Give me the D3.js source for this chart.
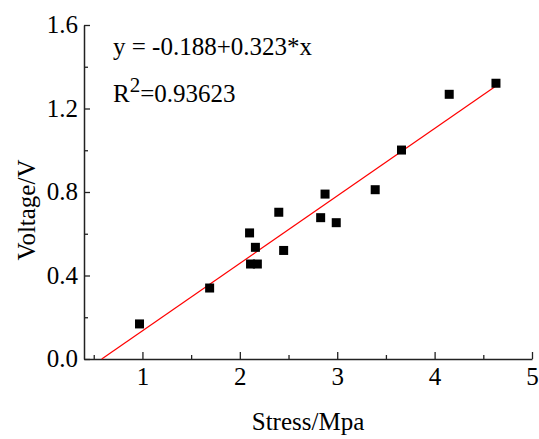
<!DOCTYPE html>
<html>
<head>
<meta charset="utf-8">
<script src="https://cdn.jsdelivr.net/npm/d3@7"></script>
<style>
  body { margin: 0; background: #fff; }
</style>
</head>
<body>
<svg id="viz"></svg>
<script>
// ----------------------- DATA
const stress  = [0.97, 1.69, 2.10, 2.11, 2.16, 2.18, 2.40, 2.45, 2.83, 2.875, 2.99, 3.39, 3.66, 4.15, 4.63];
const voltage = [0.168, 0.34, 0.604, 0.455, 0.535, 0.455, 0.703, 0.52, 0.677, 0.79, 0.653, 0.811, 1.001, 1.268, 1.321];
const xTicks = [1, 2, 3, 4, 5];
const yTicks = [0.0, 0.4, 0.8, 1.2, 1.6];
const intercept = -0.188, slope = 0.323, r2 = '0.93623';

// ----------------------- SETTINGS
const W = 539, H = 439;
const plot = { left: 84, right: 532, top: 25, bottom: 359 };
const FONT = '"Liberation Serif", "Times New Roman", Times, serif';
const FS = '25px';

const svg = d3.select('#viz').attr('width', W).attr('height', H);

const x = d3.scaleLinear().domain([0.4, 5]).range([plot.left, plot.right]);
const y = d3.scaleLinear().domain([0, 1.6]).range([plot.bottom, plot.top]);

// ----------------------- AXES (ticks point inward)
const xAxis = d3.axisBottom(x).tickValues(xTicks).tickFormat(d3.format('d'))
  .tickSizeInner(-7).tickSizeOuter(0).tickPadding(8);
const yAxis = d3.axisLeft(y).tickValues(yTicks).tickFormat(d3.format('.1f'))
  .tickSizeInner(-6).tickSizeOuter(0).tickPadding(6);

const gx = svg.append('g').attr('transform', `translate(0,${plot.bottom})`).call(xAxis);
const gy = svg.append('g').attr('transform', `translate(${plot.left},0)`).call(yAxis);

// minor ticks
svg.append('g').attr('transform', `translate(0,${plot.bottom})`)
  .call(d3.axisBottom(x).tickValues([0.5, 1.5, 2.5, 3.5, 4.5]).tickFormat('').tickSizeInner(-4).tickSizeOuter(0))
  .select('.domain').remove();
svg.append('g').attr('transform', `translate(${plot.left},0)`)
  .call(d3.axisLeft(y).tickValues([0.2, 0.6, 1.0, 1.4]).tickFormat('').tickSizeInner(-4).tickSizeOuter(0))
  .select('.domain').remove();

svg.selectAll('.domain').attr('stroke', '#222').attr('stroke-width', 1.5);
svg.selectAll('.tick line').attr('stroke', '#222').attr('stroke-width', 1.3);
gx.selectAll('text').attr('dy', '0.71em');
gy.selectAll('text').attr('dy', '0.31em');

// axis titles
svg.append('text')
  .attr('x', (plot.left + plot.right) / 2).attr('y', 430)
  .attr('text-anchor', 'middle')
  .text('Stress/Mpa');
svg.append('text')
  .attr('transform', 'translate(35,210) rotate(-90)')
  .attr('text-anchor', 'middle')
  .text('Voltage/V');

// ----------------------- FIT LINE
const x0 = -intercept / slope, x1 = d3.max(stress);
svg.append('line')
  .attr('x1', x(x0)).attr('y1', y(intercept + slope * x0))
  .attr('x2', x(x1)).attr('y2', y(intercept + slope * x1))
  .attr('stroke', '#ff0000').attr('stroke-width', 1.2);

// ----------------------- POINTS
const s = 9;
svg.selectAll('.pt')
  .data(stress.map((d, i) => [d, voltage[i]]))
  .enter().append('rect')
  .attr('class', 'pt')
  .attr('x', d => x(d[0]) - s / 2)
  .attr('y', d => y(d[1]) - s / 2)
  .attr('width', s).attr('height', s)
  .attr('fill', '#000');

// ----------------------- ANNOTATION
svg.append('text')
  .attr('x', 113).attr('y', 55)
  .text(`y = ${intercept}+${slope}*x`);
const rt = svg.append('text').attr('x', 113).attr('y', 102);
rt.append('tspan').text('R');
rt.append('tspan').attr('dy', -10).style('font-size', '21px').text('2');
rt.append('tspan').attr('dy', 10).text(`=${r2}`);

// one font for every label
svg.selectAll('text')
  .style('font-family', FONT)
  .style('fill', '#000');
svg.selectAll('text').filter(function () { return !this.style.fontSize; })
  .style('font-size', FS);
</script>
</body>
</html>
